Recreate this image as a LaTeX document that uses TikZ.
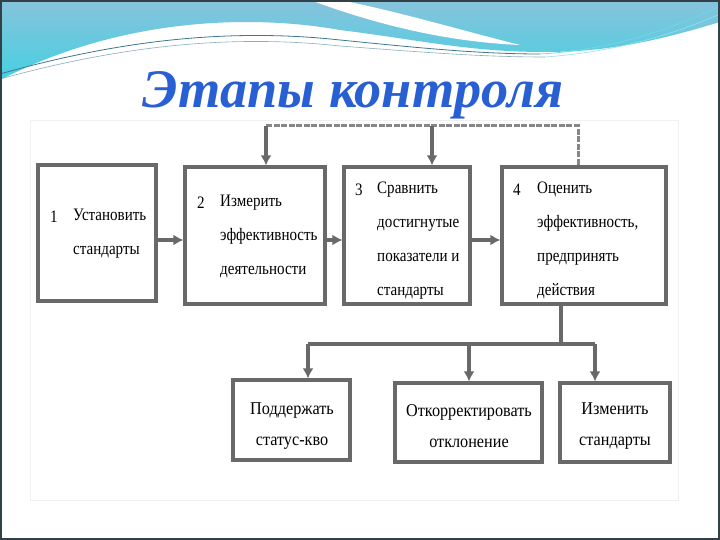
\documentclass[tikz,border=0pt]{standalone}
\usepackage{fontspec}
\setmainfont{Liberation Serif}
\newfontfamily\condfont[FakeStretch=0.86]{Liberation Serif}
\newfontfamily\condfontb[FakeStretch=0.9]{Liberation Serif}
\usetikzlibrary{arrows.meta}
\definecolor{boxgray}{RGB}{105,105,105}
\definecolor{skytop}{RGB}{135,195,220}
\definecolor{skybot}{RGB}{70,208,225}
\definecolor{tealline}{RGB}{60,120,140}
\definecolor{titleblue}{RGB}{40,95,210}
\definecolor{frame}{RGB}{50,65,72}
\tikzset{
  stage/.style={draw=boxgray, line width=3.2pt, fill=white, inner sep=0pt},
  num/.style={font=\condfont\fontsize{17.5}{34}\selectfont, anchor=west, inner sep=0pt},
  btxt/.style={font=\condfont\fontsize{17.5}{34}\selectfont, align=left, anchor=north west, inner sep=0pt},
  ctxt/.style={font=\condfontb\fontsize{18}{31}\selectfont, align=center, inner sep=0pt},
  conn/.style={draw=boxgray, line width=3.2pt, -{Latex[length=10pt,width=11pt]}},
  link/.style={draw=boxgray, line width=3.2pt},
  fback/.style={draw=boxgray!80, line width=3pt, dash pattern=on 6pt off 1.5pt},
}
\begin{document}
\begin{tikzpicture}[x=1pt,y=-1pt]
\useasboundingbox (0,0) rectangle (720,540);
\fill[white] (0,0) rectangle (720,540);
% top wave
\shade[top color=skytop, bottom color=skybot]
  (0,0) -- (720,0) -- (720,22) .. controls (660,40) and (610,52) .. (545,52)
  .. controls (470,52) and (420,40) .. (340,30)
  .. controls (250,14) and (120,18) .. (0,80) -- cycle;
\fill[white] (310,0) -- (340,0) .. controls (400,12) and (460,30) .. (520,45)
  .. controls (450,42) and (380,26) .. (310,0) -- cycle;
\draw[tealline, line width=0.8pt] (0,74) .. controls (120,40) and (230,28) .. (340,40)
  .. controls (420,48) and (480,54) .. (540,54);
\draw[tealline!60, line width=0.6pt] (0,79) .. controls (120,46) and (230,34) .. (340,46)
  .. controls (420,52) and (480,57) .. (545,57);
\draw[skybot!80!white, line width=0.7pt] (540,54) .. controls (610,50) and (670,30) .. (720,6);
\draw[skybot!60!white, line width=0.6pt] (545,57) .. controls (615,52) and (675,34) .. (720,14);
% title
\node[anchor=base, inner sep=0pt, text=titleblue] (title) at (353,108)
  {\resizebox{420pt}{!}{\bfseries\itshape Этапы контроля}};
% picture area
\draw[black!6, line width=0.8pt] (30,120) rectangle (678,500);
% boxes
\node[stage, minimum width=118pt, minimum height=136pt] (b1) at (97,233) {};
\node[stage, minimum width=140pt, minimum height=137pt] (b2) at (255,235.5) {};
\node[stage, minimum width=126pt, minimum height=137pt] (b3) at (407,235.5) {};
\node[stage, minimum width=164pt, minimum height=137pt] (b4) at (584,235.5) {};
\node[stage, minimum width=117pt, minimum height=80pt] (b5) at (291.5,420) {};
\node[stage, minimum width=147pt, minimum height=79pt] (b6) at (468.5,422.5) {};
\node[stage, minimum width=110pt, minimum height=79pt] (b7) at (615,422.5) {};
% texts
\node[num] (n1) at (50,217) {1};
\node[btxt] (t1) at (73,209) {Установить\\стандарты};
\node[num] (n2) at (197,203) {2};
\node[btxt] (t2) at (220,195) {Измерить\\эффективность\\деятельности};
\node[num] (n3) at (355,190) {3};
\node[btxt] (t3) at (377,182) {Сравнить\\достигнутые\\показатели и\\стандарты};
\node[num] (n4) at (513,190) {4};
\node[btxt] (t4) at (537,182) {Оценить\\эффективность,\\предпринять\\действия};
\node[ctxt] (t5) at (292,426) {Поддержать\\статус-кво};
\node[ctxt] (t6) at (469,426) {Откорректировать\\отклонение};
\node[ctxt] (t7) at (615,426) {Изменить\\стандарты};
% horizontal flow
\coordinate (row) at (0,240);
\draw[conn] (b1.east |- row) -- (b2.west |- row);
\draw[conn] (b2.east |- row) -- (b3.west |- row);
\draw[conn] (b3.east |- row) -- (b4.west |- row);
% feedback
\coordinate (f2) at (266,126);
\coordinate (f3) at (432,126);
\coordinate (f4) at (578,126);
\draw[fback] (f2) -- (f4) -- (b4.north -| f4);
\draw[conn] (f2) -- (b2.north -| f2);
\draw[conn] (f3) -- (b3.north -| f3);
% outcomes
\coordinate (j) at (561,344);
\coordinate (j5) at (308,344);
\coordinate (j6) at (469,344);
\coordinate (j7) at (595,344);
\draw[link] (b4.south -| j) -- (j);
\draw[link] (j5) -- (j7);
\draw[conn] (j5) -- (b5.north -| j5);
\draw[conn] (j6) -- (b6.north -| j6);
\draw[conn] (j7) -- (b7.north -| j7);
% slide frame
\draw[frame, line width=1.6pt] (0.8,0.8) rectangle (719.2,539.2);
\end{tikzpicture}
\end{document}
